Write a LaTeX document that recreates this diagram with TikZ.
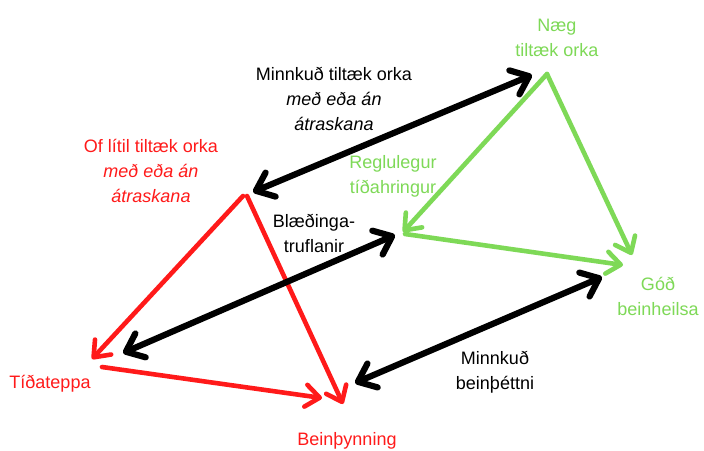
\documentclass[tikz,border=0pt]{standalone}
\usepackage{fontspec}
\setmainfont{Liberation Sans}
\usetikzlibrary{arrows.meta}
\definecolor{myred}{HTML}{FF1A1A}
\definecolor{mygreen}{HTML}{7ED957}
\begin{document}
\begin{tikzpicture}[x=1pt,y=-1pt,
  lbl/.style={align=center,font=\fontsize{18}{25}\selectfont,inner sep=0pt},
  blk/.style={line width=6.2pt,black,
    {Straight Barb[round,length=16pt,width=26pt]}-{Straight Barb[round,length=16pt,width=26pt]}},
  redarr/.style={line width=4.6pt,myred,line cap=round,-{Straight Barb[round,length=14pt,width=22pt]}},
  grnarr/.style={line width=4.6pt,mygreen,line cap=round,-{Straight Barb[round,length=14pt,width=22pt]}}]
\useasboundingbox (0,0) rectangle (704,450);
\fill[white] (0,0) rectangle (704,450);
% labels
\node[lbl,mygreen] (naeg) at (557,38) {Næg\\tiltæk orka};
\node[lbl] (minnk) at (334,99) {Minnkuð tiltæk orka\\\textit{með eða án}\\\textit{átraskana}};
\node[lbl,myred] (oflitil) at (151,171) {Of lítil tiltæk orka\\\textit{með eða án}\\\textit{átraskana}};
\node[lbl,mygreen] (regl) at (393,176) {Reglulegur\\tíðahringur};
\node[lbl] (blaed) at (314,233) {Blæðinga-\\truflanir};
\node[lbl,mygreen] (god) at (658,296) {Góð\\beinheilsa};
\node[lbl,myred] (tida) at (50,384) {Tíðateppa};
\node[lbl] (minnkb) at (495,372) {Minnkuð\\beinþéttni};
\node[lbl,myred] (beinth) at (347,441) {Beinþynning};
% connector end points
\coordinate (a1) at (253,192);
\coordinate (a2) at (532,75);
\coordinate (b1) at (123,353);
\coordinate (b2) at (395,235);
\coordinate (c1) at (355,383);
\coordinate (c2) at (602,277);
\coordinate (r0a) at (243,196);
\coordinate (r0b) at (247,196);
\coordinate (r1) at (92,359);
\coordinate (r2) at (343,404);
\coordinate (r3) at (102,367);
\coordinate (r4) at (322,398);
\coordinate (g0) at (547,74);
\coordinate (g1) at (403,232);
\coordinate (g2) at (632,255);
\coordinate (g3) at (405,234);
\coordinate (g4) at (623,265);
% red
\draw[redarr] (r0a) -- (r1);
\draw[redarr] (r0b) -- (r2);
\draw[redarr] (r3) -- (r4);
% green
\draw[grnarr] (g0) -- (g1);
\draw[grnarr] (g0) -- (g2);
\draw[grnarr] (g3) -- (g4);
% black
\draw[blk] (a1) -- (a2);
\draw[blk] (b1) -- (b2);
\draw[blk] (c1) -- (c2);
\end{tikzpicture}
\end{document}
